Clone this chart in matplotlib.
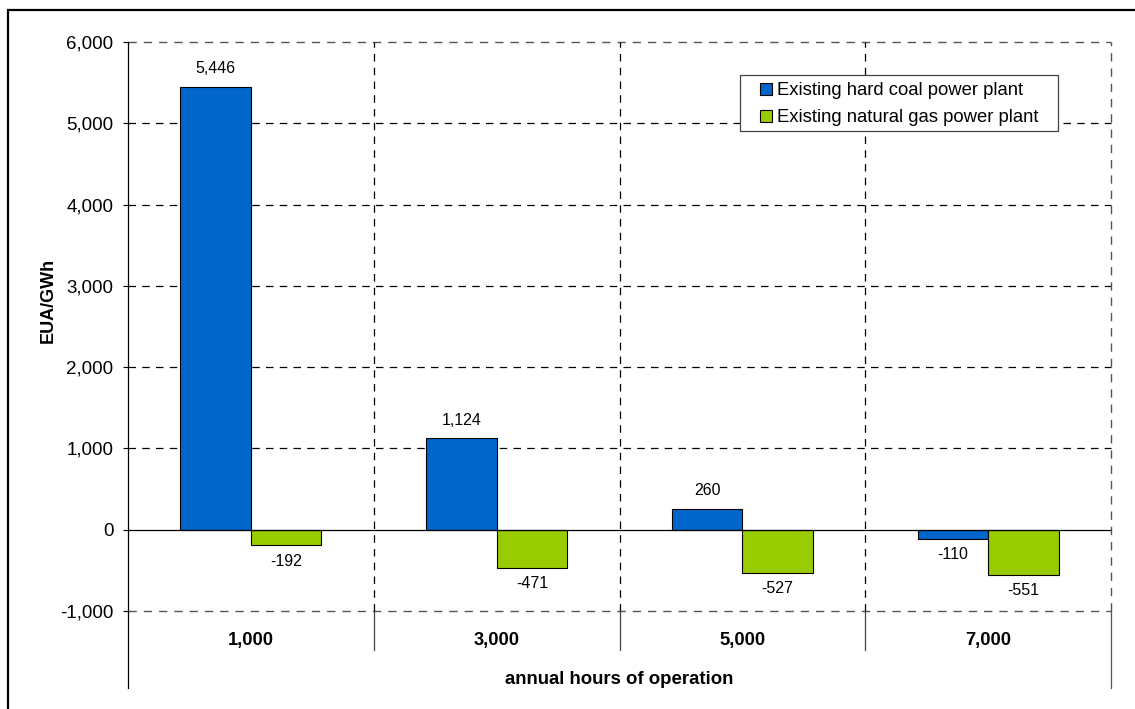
"""EUA/GWh by annual hours of operation for existing power plants."""
import matplotlib.pyplot as plt
import matplotlib.transforms as mtransforms
from matplotlib.lines import Line2D
from matplotlib.patches import Rectangle
import numpy as np

plt.rcParams['font.family'] = ['Liberation Sans', 'DejaVu Sans']

hours = ['1,000', '3,000', '5,000', '7,000']
hard_coal = [5446, 1124, 260, -110]
natural_gas = [-192, -471, -527, -551]
series_names = ['Existing hard coal power plant',
                'Existing natural gas power plant']
colors = ['#0066CC', '#99CC00']

W, H = 1135, 709
fig = plt.figure(figsize=(W / 100, H / 100), dpi=100)

# outer frame (left and top visible, rest runs off the picture)
fig.patches.append(Rectangle((8 / W, -0.2), 1.2, 1.2 - 10 / H,
                             transform=fig.transFigure, fill=False,
                             ec='black', lw=1.6))

left, right, top, bottom = 128, 1111, 42, 611
ax = fig.add_axes([left / W, 1 - bottom / H,
                   (right - left) / W, (bottom - top) / H])

x = np.arange(len(hours))
width = 0.287
b1 = ax.bar(x - width / 2, hard_coal, width, color=colors[0],
            edgecolor='black', linewidth=0.8, zorder=3)
b2 = ax.bar(x + width / 2, natural_gas, width, color=colors[1],
            edgecolor='black', linewidth=0.8, zorder=3)

for bars in (b1, b2):
    for rect in bars:
        v = rect.get_height()
        off = 13 if v >= 0 else -11.5
        ax.annotate(f'{v:,.0f}',
                    (rect.get_x() + rect.get_width() / 2, v),
                    xytext=(0, off), textcoords='offset points',
                    ha='center', va='center', fontsize=11.5)

ax.set_ylim(-1000, 6000)
ax.set_xlim(-0.5, len(hours) - 0.5)
ax.set_yticks(np.arange(-1000, 6001, 1000))
ax.yaxis.set_major_formatter(plt.FuncFormatter(lambda v, p: f'{v:,.0f}'))
ax.tick_params(axis='y', length=3.6, width=0.8, pad=7, labelsize=13.5)

# grid
for yv in np.arange(-1000, 6001, 1000):
    if yv == 0:
        ax.axhline(0, color='black', lw=0.9, zorder=4)
    else:
        edge = yv in (-1000, 6000)
        ax.axhline(yv, color='#555555' if edge else 'black',
                   lw=1.0 if edge else 0.9, ls=(0, (6, 5)), zorder=1,
                   clip_on=False)
for xv in np.arange(0.5, len(hours) - 0.4, 1):
    edge = xv > len(hours) - 1
    ax.axvline(xv, color='#555555' if edge else 'black',
               lw=1.0 if edge else 0.9, ls=(0, (6, 5)), zorder=1,
               clip_on=False)

for s in ['top', 'right', 'bottom']:
    ax.spines[s].set_visible(False)
ax.spines['left'].set_linewidth(0.9)

# category table below the axes
trans = mtransforms.blended_transform_factory(ax.transData, ax.transAxes)
for xv in np.arange(0.5, len(hours) - 1, 1):
    ax.plot([xv, xv], [0, -0.0685], color='#444444', lw=0.9,
            transform=trans, clip_on=False)
for xv, c in [(-0.5, 'black'), (len(hours) - 0.5, '#555555')]:
    ax.plot([xv, xv], [0, -0.135], color=c, lw=0.9,
            transform=trans, clip_on=False)

ax.set_xticks(x)
ax.set_xticklabels(hours, fontweight='bold', fontsize=13.2)
ax.tick_params(axis='x', length=0, pad=15)

ax.set_xlabel('annual hours of operation', fontweight='bold', fontsize=13.4)
ax.xaxis.set_label_coords(0.5, -0.106)
ax.set_ylabel('EUA/GWh', fontweight='bold', fontsize=13)
ax.yaxis.set_label_coords(-0.072, (bottom - 300) / (bottom - top))

# legend: own box, marker handles
ax.add_patch(Rectangle((740 / W, 1 - 131 / H), (1058 - 740) / W,
                       (131 - 75) / H, transform=fig.transFigure,
                       fc='white', ec='#444444', lw=0.9, zorder=5,
                       clip_on=False))
handles = [Line2D([], [], ls='none', marker='s', markersize=9,
                  markerfacecolor=c, markeredgecolor='black',
                  markeredgewidth=0.8) for c in colors]
leg = ax.legend(handles, series_names, loc='upper left',
                bbox_to_anchor=(756 / W, 1 - 82 / H),
                bbox_transform=fig.transFigure,
                fontsize=13.3, frameon=False,
                handlelength=1.08, handletextpad=0.05,
                borderpad=0, labelspacing=0.55, borderaxespad=0)
leg.set_zorder(6)

fig.savefig('out.png', dpi=100)
